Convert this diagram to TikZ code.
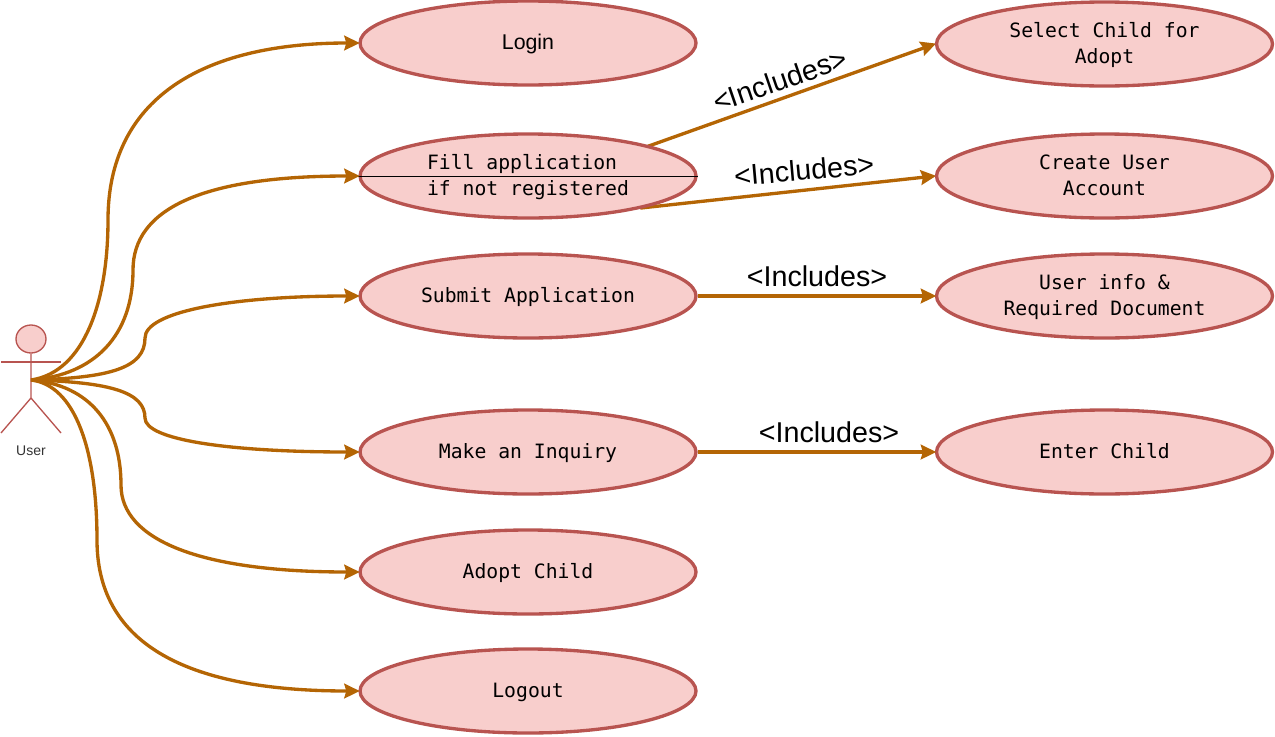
\documentclass[tikz,border=0pt]{standalone}
\usepackage{fontspec}
\setmainfont{Liberation Sans}
\setmonofont{DejaVu Sans Mono}
\usetikzlibrary{shapes.geometric,arrows.meta,backgrounds}
\definecolor{ucfill}{HTML}{F8CECC}
\definecolor{ucline}{HTML}{B85450}
\definecolor{edgecol}{HTML}{B46504}
\newcommand\lnstrut{\rule[-3pt]{0pt}{15.8pt}}
\tikzset{
 x=0.75pt,y=-0.75pt,
 usecase/.style={ellipse,draw=ucline,fill=ucfill,line width=2.5pt,minimum width=252pt,minimum height=63pt,inner sep=0pt,font=\ttfamily\fontsize{14.8}{19.5}\selectfont,align=center,text=black},
 conn/.style={draw=edgecol,line width=2.5pt,shorten >=-1pt,-{Stealth[inset=1.5pt,length=11.5pt,width=11pt]}},
 inc/.style={font=\fontsize{21.5}{24}\selectfont,text=black,inner sep=0pt},
 actorline/.style={draw=ucline,line width=1pt},
}
\begin{document}
\begin{tikzpicture}
\useasboundingbox (0,0) rectangle (1275,736);
% use cases
\node[usecase,font=\fontsize{16}{19.5}\selectfont] (login) at (528,43) {\lnstrut Login};
\node[usecase,align=left] (fill) at (528,176) {\lnstrut Fill application\\\lnstrut if not registered};
\node[usecase] (submit) at (528,296) {\lnstrut Submit Application};
\node[usecase] (inquiry) at (528,452) {\lnstrut Make an Inquiry};
\node[usecase] (adopt) at (528,572) {\lnstrut Adopt Child};
\node[usecase] (logout) at (528,691) {\lnstrut Logout};
\node[usecase] (select) at (1104.5,44) {\lnstrut Select Child for\\\lnstrut Adopt};
\node[usecase] (create) at (1104.5,176) {\lnstrut Create User\\\lnstrut Account};
\node[usecase] (info) at (1104.5,296) {\lnstrut User info \&\\\lnstrut Required Document};
\node[usecase] (enter) at (1104.5,452) {\lnstrut Enter Child};
% black line through the use case
\draw[black,line width=0.75pt] (fill.west) -- (fill.east);
% actor
\node[ellipse,draw=ucline,fill=ucfill,line width=1pt,minimum width=22.5pt,minimum height=21pt,inner sep=0pt] (head) at (31,339) {};
\coordinate (arml) at (1,362);
\coordinate (armr) at (61,362);
\coordinate (hip) at (31,398);
\coordinate (footl) at (1,433);
\coordinate (footr) at (61,433);
\coordinate (actor) at (31,380);
\draw[actorline] (head.south) -- (hip) -- (footl);
\draw[actorline] (hip) -- (footr);
\draw[actorline] (arml) -- (armr);
\node[font=\fontsize{10.5}{12}\selectfont,text=black!80,inner sep=0pt] (userlabel) at (31,450.5) {User};
% actor connectors
\draw[conn] (actor) .. controls (85,372) and (108,300) .. (108,220) .. controls (108,100) and (200,43) .. (login.west);
\draw[conn] (actor) .. controls (95,375) and (133,335) .. (133,270) .. controls (133,210) and (200,176) .. (fill.west);
\draw[conn] (actor) .. controls (110,378) and (145,368) .. (145,338) .. controls (145,312) and (230,296) .. (submit.west);
\draw[conn] (actor) .. controls (110,382) and (145,392) .. (145,418) .. controls (145,440) and (230,452) .. (inquiry.west);
\draw[conn] (actor) .. controls (90,385) and (121,425) .. (121,485) .. controls (121,540) and (200,572) .. (adopt.west);
\draw[conn] (actor) .. controls (75,385) and (97,450) .. (97,540) .. controls (97,640) and (180,691) .. (logout.west);
% include connectors
\begin{pgfonlayer}{background}
\draw[conn,shorten <=-4pt] (fill.14) -- (select.west);
\draw[conn,shorten <=-4pt] (fill.-15) -- (create.west);
\end{pgfonlayer}
\draw[conn] (submit.east) -- (info.west);
\draw[conn] (inquiry.east) -- (enter.west);
% labels
\node[inc,rotate=19] (inc1) at (780,80) {<Includes>};
\node[inc,rotate=5] (inc2) at (804,170) {<Includes>};
\node[inc] (inc3) at (817,276) {<Includes>};
\node[inc] (inc4) at (829,432) {<Includes>};
\end{tikzpicture}
\end{document}
